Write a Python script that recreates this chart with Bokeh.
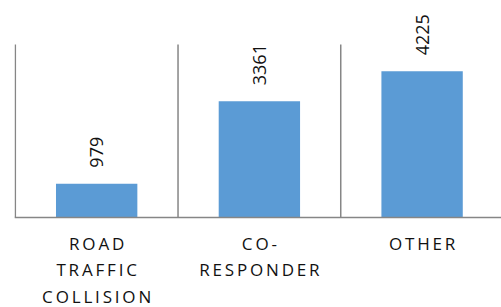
import numpy as np
from bokeh.plotting import figure
from bokeh.models import Range1d, Span
from bokeh.embed import file_html
from bokeh.resources import INLINE
from bokeh.core.properties import value

# ---- data ----
categories = ["ROAD\nTRAFFIC\nCOLLISION", "CO-\nRESPONDER", "OTHER"]
counts = [979, 3361, 4225]
y_axis_max = 5000

FONT = "Open Sans"
BAR_COLOR = "#5B9BD5"
LINE_COLOR = "#868686"
TEXT_COLOR = "#111111"
THIN = "\u2009"


def spaced(label):
    return "\n".join(THIN.join(line) for line in label.split("\n"))


xs = list(range(len(categories)))

p = figure(width=501, height=307, output_backend="svg", toolbar_location=None,
           x_range=Range1d(-0.505, len(categories) - 0.512),
           y_range=Range1d(-2601, 6272),
           min_border_left=14, min_border_right=0, min_border_top=0,
           min_border_bottom=0)
p.outline_line_color = None
p.xgrid.visible = False
p.ygrid.visible = False
p.xaxis.visible = False
p.yaxis.visible = False
p.background_fill_color = "white"
p.border_fill_color = "white"

p.vbar(x=xs, top=counts, width=0.5, fill_color=BAR_COLOR, line_color=None)

# category separators and baseline
bounds = [i - 0.5 for i in xs]
p.segment(x0=bounds, y0=[0] * len(bounds), x1=bounds, y1=[y_axis_max] * len(bounds),
          line_color=LINE_COLOR, line_width=1.5)
p.add_layout(Span(location=0, dimension="width", line_color=LINE_COLOR, line_width=1.5))

# value labels
p.text(x=xs, y=counts, text=[str(c) for c in counts], angle=np.pi / 2,
       text_align="left", text_baseline="middle", y_offset=-16,
       text_font=value(FONT), text_font_size="18px", text_color=TEXT_COLOR)

# category labels
p.text(x=xs, y=[0] * len(xs), text=[spaced(c) for c in categories],
       text_align="center", text_baseline="top", y_offset=14,
       text_font=value(FONT), text_font_size="17px", text_color=TEXT_COLOR,
       text_line_height=1.17)

open("out.html", "w").write(file_html(p, INLINE))
